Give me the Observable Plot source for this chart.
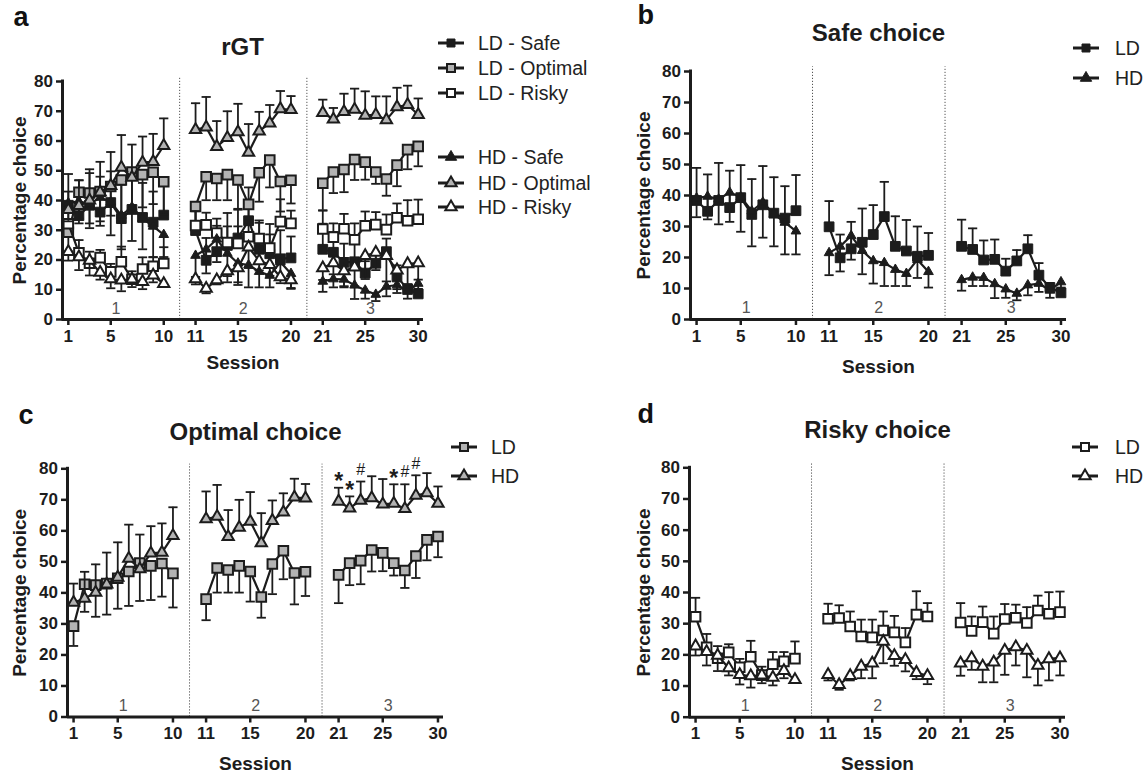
<!DOCTYPE html>
<html><head><meta charset="utf-8">
<script src="https://cdn.jsdelivr.net/npm/d3@7"></script>
<script src="https://cdn.jsdelivr.net/npm/@observablehq/plot@0.6"></script>
<style>
body{margin:0;background:#fff;}
#wrap{position:relative;width:1148px;height:775px;overflow:hidden;background:#fff;font-family:"Liberation Sans",Arial,sans-serif;}
#wrap svg{position:absolute;}
</style></head><body><div id="wrap"></div>
<script>
// ---------- data ----------
const sessions = d3.range(1, 31);
const tickSessions = [1, 5, 10, 11, 15, 20, 21, 25, 30];
const blockLabels = ["1", "2", "3"];
const yTicks = [0, 10, 20, 30, 40, 50, 60, 70, 80];

// Safe choice (LD bars up, HD bars down)
const ldSafe    = [38.4,34.9,38.4,36.1,39.3,33.9,37.0,34.3,32.7,35.1, 29.9,19.9,22.8,24.9,27.4,33.2,23.6,22.1,20.4,20.7, 23.6,22.6,19.2,19.4,15.6,18.9,22.8,14.3,10.3,8.6];
const ldSafeErr = [48.9,46.8,50.5,48.0,49.8,45.3,49.5,45.9,43.0,46.6, 38.2,27.4,31.5,35.8,36.9,44.4,33.3,32.1,30.0,27.9, 32.2,29.4,25.5,25.8,19.6,22.4,27.2,18.2,11.8,9.6];
const hdSafe    = [39.2,39.7,38.8,41.0,39.5,35.0,37.8,34.0,31.3,28.5, 21.5,23.6,27.0,22.2,18.9,18.3,16.1,14.8,19.3,15.4, 12.8,13.6,13.5,11.5,9.8,8.4,11.1,11.6,9.4,12.1];
const hdSafeErr = [33.0,32.3,30.7,31.5,28.3,23.6,26.4,23.6,21.0,21.0, 14.3,15.5,19.3,14.6,11.6,10.8,10.8,10.8,13.4,10.3, 9.3,10.8,10.8,6.9,7.0,6.2,7.8,8.9,7.0,10.3];

// Optimal choice (LD bars down, HD bars up)
const ldOpt     = [29.3,42.8,42.5,43.0,44.7,46.9,49.6,48.7,49.5,46.3, 38.0,48.0,47.4,48.7,46.9,38.7,49.3,53.6,46.4,46.8, 45.8,49.6,50.4,53.8,52.9,49.6,47.2,51.9,57.1,58.2];
const ldOptErr  = [22.9,33.9,32.3,33.0,34.9,35.8,37.4,37.7,38.8,35.3, 31.2,40.1,40.1,40.1,37.2,32.0,39.6,44.4,36.3,39.0, 36.7,42.5,42.8,46.9,47.0,45.6,41.6,44.8,50.5,51.5];
const hdOpt     = [36.9,38.2,40.1,42.8,45.0,51.1,47.7,52.8,53.0,58.4, 63.8,64.6,58.1,61.1,63.0,56.1,63.3,66.0,70.8,70.5, 69.5,67.3,69.8,70.6,68.6,68.8,67.1,71.4,72.2,68.8];
const hdOptErr  = [43.0,46.8,49.2,53.0,56.3,62.0,58.8,61.5,62.4,67.6, 72.7,74.8,66.7,70.0,72.5,65.7,69.8,72.1,76.8,75.1, 73.9,71.1,75.9,77.6,76.7,75.0,75.0,77.9,78.6,74.3];

// Risky choice (LD bars up, HD bars down)
const ldRisky    = [32.2,22.4,18.9,20.8,16.0,19.4,13.5,17.0,17.9,18.8, 31.6,31.8,29.1,25.9,25.6,27.8,27.2,24.0,32.9,32.3, 30.4,27.7,30.5,26.8,31.5,31.9,30.2,34.2,33.2,33.7];
const ldRiskyErr = [38.3,26.7,22.8,23.4,18.7,24.5,16.2,20.9,20.9,24.3, 36.4,35.9,33.9,31.3,31.3,33.9,32.5,28.6,40.4,36.6, 36.6,32.3,35.5,32.3,36.3,36.1,35.3,39.0,40.1,40.3];
const hdRisky    = [22.8,21.0,19.8,15.8,13.6,13.2,13.5,12.7,14.9,12.0, 13.6,10.4,13.3,16.3,17.3,24.3,19.7,18.4,14.3,13.3, 17.3,19.0,16.3,17.6,21.4,22.5,21.4,16.6,18.7,19.0];
const hdRiskyErr = [19.8,16.6,14.8,13.4,10.5,9.5,10.9,10.2,12.5,11.2, 11.8,8.8,11.8,12.5,12.5,17.3,16.5,14.7,12.2,10.6, 13.3,15.2,11.2,11.2,13.6,16.6,12.8,10.2,11.8,13.4];

// significance marks in Optimal choice panel
const noteSessions = [21, 22, 23, 26, 27, 28];
const noteLabels   = ["*", "*", "#", "*", "#", "#"];
const noteValues   = [77.8, 74.8, 79.6, 78.9, 78.9, 81.6];

// ---------- styling ----------
const INK = "#1c1c1c";
const GREY = "#b3b3b3";
const FONT = "'Liberation Sans', Arial, sans-serif";

const SER = {
  ldSafe:  {name: "LD - Safe",    mean: ldSafe,  err: ldSafeErr,  symbol: "square",   fill: INK,    sw: 1, r: 5.5},
  ldOpt:   {name: "LD - Optimal", mean: ldOpt,   err: ldOptErr,   symbol: "square",   fill: GREY,   sw: 2, r: 5.4},
  ldRisky: {name: "LD - Risky",   mean: ldRisky, err: ldRiskyErr, symbol: "square",   fill: "#fff", sw: 2, r: 5.4},
  hdSafe:  {name: "HD - Safe",    mean: hdSafe,  err: hdSafeErr,  symbol: "triangle", fill: INK,    sw: 1, r: 3.6},
  hdOpt:   {name: "HD - Optimal", mean: hdOpt,   err: hdOptErr,   symbol: "triangle", fill: GREY,   sw: 2, r: 4.2},
  hdRisky: {name: "HD - Risky",   mean: hdRisky, err: hdRiskyErr, symbol: "triangle", fill: "#fff", sw: 2, r: 4.2}
};

// broken session axis: 2 empty units between blocks of 10
const pos = s => s + 2 * Math.floor((s - 1) / 10);
const posToSession = new Map(tickSessions.map(s => [pos(s), s]));
const dividerPos = [pos(10) + 1.5, pos(20) + 1.5];
const blockCenterPos = [pos(5) + 0.5, pos(15) + 0.5, pos(25) + 0.5];
const X_DOMAIN = [0.45, 34.5];

const capSymbol = {draw(ctx, size) { const w = Math.sqrt(size / Math.PI); ctx.moveTo(-w, 0); ctx.lineTo(w, 0); }};

const panels = [
  {id: "a", left: 0, top: 0, width: 460, height: 380, L: 62, R: 423, T: 81, B: 319,
   title: "rGT", titleXY: [242, 47], letterXY: [13, 17], ylabX: 19, sessY: 362,
   series: ["ldSafe", "ldOpt", "ldRisky", "hdSafe", "hdOpt", "hdRisky"],
   legend: {x1: 438, x2: 464, tx: 478, ys: [43, 68, 93, 157, 183, 207]}},
  {id: "b", left: 574, top: 0, width: 500, height: 380, L: 690, R: 1066, T: 71, B: 319,
   title: "Safe choice", titleXY: [878, 33], letterXY: [637, 15], ylabX: 643, sessY: 366,
   series: ["ldSafe", "hdSafe"], names: ["LD", "HD"],
   legend: {x1: 1073, x2: 1099, tx: 1115, ys: [48, 78]}},
  {id: "c", left: 0, top: 387, width: 460, height: 388, L: 67, R: 443, T: 468.3, B: 716.5,
   title: "Optimal choice", titleXY: [255, 432], letterXY: [18, 415], ylabX: 19, sessY: 763,
   series: ["ldOpt", "hdOpt"], names: ["LD", "HD"], notes: true,
   legend: {x1: 451, x2: 477, tx: 491, ys: [447, 476]}},
  {id: "d", left: 574, top: 387, width: 500, height: 388, L: 689, R: 1065, T: 467.3, B: 716.7,
   title: "Risky choice", titleXY: [877, 430], letterXY: [637, 414], ylabX: 643, sessY: 763,
   series: ["ldRisky", "hdRisky"], names: ["LD", "HD"],
   legend: {x1: 1072, x2: 1098, tx: 1115, ys: [447, 476]}}
];

const wrap = document.getElementById("wrap");

function rowsFor(key) {
  const s = SER[key];
  return sessions.map((sess, i) => ({x: pos(sess), seg: Math.floor((sess - 1) / 10), y: s.mean[i], e: s.err[i]}));
}

for (const p of panels) {
  const marks = [];
  // dotted block dividers
  marks.push(Plot.ruleX(dividerPos, {y1: 0, y2: 81.5, stroke: "#555", strokeWidth: 1, strokeDasharray: "1.2,1.8"}));
  // block labels
  marks.push(Plot.text(blockLabels, {x: (d, i) => blockCenterPos[i], y: 3.6, fill: "#555", fontWeight: "normal", fontSize: 16}));
  // axes
  marks.push(Plot.axisY({ticks: yTicks, tickSize: 6, tickPadding: 3.5, strokeWidth: 2.5, label: null, fontSize: 17}));
  marks.push(Plot.axisX({ticks: tickSessions.map(pos), tickFormat: v => posToSession.get(v), tickSize: 6, tickPadding: 4, strokeWidth: 2.5, label: null, fontSize: 17}));
  marks.push(Plot.ruleY([0], {x1: X_DOMAIN[0], x2: X_DOMAIN[1], stroke: INK, strokeWidth: 3}));
  marks.push(Plot.ruleX([X_DOMAIN[0]], {y1: 0, y2: 80, stroke: INK, strokeWidth: 3, strokeLinecap: "square"}));
  // series
  for (const key of p.series) {
    const s = SER[key];
    const rows = rowsFor(key);
    marks.push(Plot.ruleX(rows, {x: "x", y1: "y", y2: "e", stroke: INK, strokeWidth: 1.8}));
    marks.push(Plot.dot(rows, {x: "x", y: "e", symbol: capSymbol, r: 4.6, stroke: INK, strokeWidth: 1.8, fill: "none"}));
    marks.push(Plot.line(rows, {x: "x", y: "y", z: "seg", stroke: INK, strokeWidth: 2.2}));
    marks.push(Plot.dot(rows, {x: "x", y: "y", symbol: s.symbol, r: s.r, fill: s.fill, stroke: INK, strokeWidth: s.sw}));
  }
  if (p.notes) {
    marks.push(Plot.text(noteLabels, {x: (d, i) => pos(noteSessions[i]), y: (d, i) => noteValues[i],
      dy: 0, fontSize: 16, fontWeight: "normal", fill: INK, lineAnchor: "middle",
      filter: d => d === "#"}));
    marks.push(Plot.text(noteLabels, {x: (d, i) => pos(noteSessions[i]), y: (d, i) => noteValues[i],
      dy: 6, fontSize: 23, fontWeight: "bold", fill: INK, lineAnchor: "middle",
      filter: d => d === "*"}));
  }
  // texts
  marks.push(Plot.text(["Percentage choice"], {frameAnchor: "left", dx: p.ylabX - p.L, rotate: -90, textAnchor: "middle", lineAnchor: "middle", fontSize: 19, fill: INK}));
  marks.push(Plot.text(["Session"], {frameAnchor: "bottom", dy: p.sessY - p.B, textAnchor: "middle", lineAnchor: "middle", fontSize: 19, fill: INK}));
  marks.push(Plot.text([p.title], {frameAnchor: "top", dx: p.titleXY[0] - (p.L + p.R) / 2, dy: p.titleXY[1] - p.T, textAnchor: "middle", lineAnchor: "middle", fontSize: 24, fill: INK}));
  marks.push(Plot.text([p.id], {frameAnchor: "top-left", dx: p.letterXY[0] - p.L, dy: p.letterXY[1] - p.T, textAnchor: "start", lineAnchor: "middle", fontSize: 27, fill: "#111"}));

  const chart = Plot.plot({
    width: p.width, height: p.height,
    marginLeft: p.L - p.left, marginRight: p.left + p.width - p.R,
    marginTop: p.T - p.top, marginBottom: p.top + p.height - p.B,
    x: {type: "linear", domain: X_DOMAIN},
    y: {type: "linear", domain: [0, 80]},
    style: {fontFamily: FONT, fontSize: "17px", fontWeight: "bold", color: INK, background: "transparent", overflow: "visible"},
    marks
  });
  chart.style.left = p.left + "px";
  chart.style.top = p.top + "px";
  wrap.appendChild(chart);
}

// legends
const ov = d3.select(wrap).append("svg").attr("width", 1148).attr("height", 775).style("left", 0).style("top", 0);
for (const p of panels) {
  const lg = p.legend;
  p.series.forEach((key, i) => {
    const s = SER[key];
    const y = lg.ys[i];
    const g = ov.append("g");
    g.append("line").attr("x1", lg.x1).attr("x2", lg.x2).attr("y1", y).attr("y2", y).attr("stroke", INK).attr("stroke-width", 3);
    const size = s.symbol === "square" ? 64 : 56;
    const type = s.symbol === "square" ? d3.symbolSquare : d3.symbolTriangle;
    g.append("path").attr("d", d3.symbol(type, size)()).attr("transform", `translate(${(lg.x1 + lg.x2) / 2},${y})`)
      .attr("fill", s.fill).attr("stroke", INK).attr("stroke-width", s.sw);
    g.append("text").attr("x", lg.tx).attr("y", y).attr("dy", "0.35em").attr("font-family", FONT).attr("font-size", 19.5)
      .attr("fill", "#222").text(p.names ? p.names[i] : s.name);
  });
}
</script></body></html>
